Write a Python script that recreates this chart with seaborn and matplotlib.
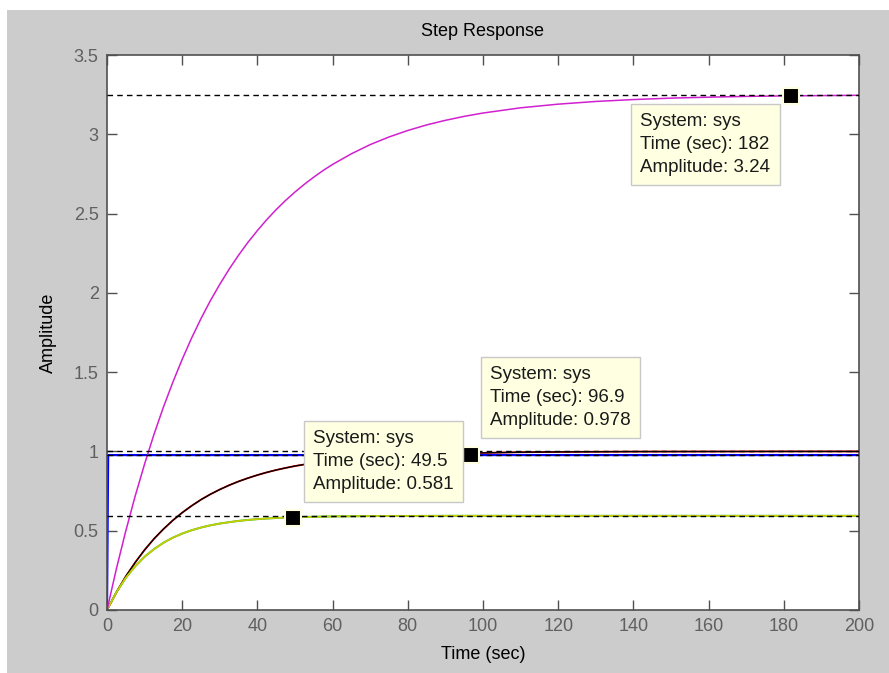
import numpy as np
import pandas as pd
import matplotlib
matplotlib.use('Agg')
import matplotlib.pyplot as plt
import seaborn as sns
from matplotlib.patches import Rectangle

# values
time_s = [0, 2.5, 5, 7.5, 10, 12.5, 15, 17.5, 20, 22.5, 25, 27.5, 30, 32.5, 35,
          37.5, 40, 42.5, 45, 47.5, 50, 52.5, 55, 57.5, 60, 65, 70, 75, 80, 85,
          90, 95, 100, 110, 120, 130, 140, 150, 160, 170, 180, 190, 200]
amp_magenta = [0, 0.26, 0.499, 0.719, 0.921, 1.108, 1.279, 1.436, 1.581, 1.715,
               1.838, 1.951, 2.054, 2.150, 2.238, 2.319, 2.393, 2.462, 2.525,
               2.583, 2.636, 2.685, 2.730, 2.772, 2.810, 2.877, 2.935, 2.983,
               3.024, 3.059, 3.088, 3.113, 3.134, 3.167, 3.190, 3.207, 3.219,
               3.228, 3.234, 3.239, 3.242, 3.244, 3.246]
amp_black = [0, 0.112, 0.212, 0.300, 0.379, 0.449, 0.510, 0.565, 0.614, 0.657,
             0.696, 0.730, 0.760, 0.787, 0.811, 0.832, 0.851, 0.868, 0.883,
             0.896, 0.908, 0.918, 0.927, 0.935, 0.943, 0.955, 0.964, 0.972,
             0.978, 0.983, 0.986, 0.989, 0.991, 0.995, 0.997, 0.998, 0.999,
             0.9992, 0.9995, 0.9997, 1.0, 1.0, 1.0]
amp_yellow = [0, 0.112, 0.203, 0.276, 0.336, 0.384, 0.424, 0.456, 0.482, 0.503,
              0.520, 0.534, 0.545, 0.554, 0.562, 0.568, 0.573, 0.577, 0.580,
              0.583, 0.585, 0.587, 0.588, 0.589, 0.590, 0.591, 0.592, 0.593,
              0.593, 0.5935, 0.594, 0.594, 0.594, 0.594, 0.594, 0.594, 0.594,
              0.594, 0.594, 0.594, 0.594, 0.594, 0.594]
blue_t = [0, 0.3, 200]
blue_amp = [0, 0.977, 0.977]

steady_levels = [3.25, 1.0, 0.977, 0.594]

tip_time = [182, 96.9, 49.5]
tip_amp = [3.24, 0.978, 0.581]
tip_text_pos = [(141.8, 3.134), (101.9, 1.539), (54.8, 1.135)]

x_ticks = list(range(0, 201, 20))
y_ticks = [0, 0.5, 1, 1.5, 2, 2.5, 3, 3.5]
y_tick_labels = ['0', '0.5', '1', '1.5', '2', '2.5', '3', '3.5']

sns.set_style('white')
plt.rcParams['font.family'] = ['Liberation Sans', 'DejaVu Sans']

curves = pd.DataFrame({'t': time_s, 'magenta': amp_magenta,
                       'black': amp_black, 'yellow': amp_yellow})
blue = pd.DataFrame({'t': blue_t, 'amp': blue_amp})

fig = plt.figure(figsize=(8.89, 6.73), dpi=100, facecolor='white')
fig.patches.append(Rectangle((7 / 889, 0), 1, (673 - 10) / 673,
                             transform=fig.transFigure, facecolor='#cccccc',
                             edgecolor='none', zorder=-10))
ax = fig.add_axes([107 / 889, (673 - 610) / 673, 752 / 889, 555 / 673])
ax.set_facecolor('white')

# curves, coloured under-lines first
sns.lineplot(data=curves, x='t', y='black', color='#ff0000', lw=1.3, ax=ax)
sns.lineplot(data=curves, x='t', y='black', color='black', lw=1.0, ax=ax)
sns.lineplot(data=curves, x='t', y='yellow', color='#22bb22', lw=1.4, ax=ax)
sns.lineplot(data=curves, x='t', y='yellow', color='#cccc00', lw=1.2, ax=ax)
sns.lineplot(data=blue, x='t', y='amp', color='#0000ff', lw=1.6, ax=ax)
sns.lineplot(data=curves, x='t', y='magenta', color='#d020d0', lw=1.1, ax=ax)

for lvl in steady_levels:
    ax.axhline(lvl, color='black', lw=1.0, ls=(0, (4, 3)), zorder=3)

ax.plot(tip_time, tip_amp, ls='none', marker='s', ms=11, mfc='black',
        mec='#ffffe1', mew=1.5, zorder=5)

for tt, aa, (xt, yt) in zip(tip_time, tip_amp, tip_text_pos):
    label = f'System: sys\nTime (sec): {tt:g}\nAmplitude: {aa:g}'
    ax.text(xt, yt, label, ha='left', va='top', fontsize=13.5,
            linespacing=1.45, color='#1a1a1a', zorder=6,
            bbox=dict(boxstyle='square,pad=0.5', fc='#ffffe1', ec='#c8c8c8', lw=1))

ax.set_xlim(0, 200)
ax.set_ylim(0, 3.5)
ax.set_xticks(x_ticks)
ax.set_yticks(y_ticks)
ax.set_yticklabels(y_tick_labels)
ax.tick_params(direction='in', length=7, width=1, color='#505050',
               labelcolor='#606060', labelsize=13, top=True, right=True,
               bottom=True, left=True, pad=6)
for sp in ax.spines.values():
    sp.set_color('#505050')
    sp.set_linewidth(1.2)

ax.set_title('Step Response', fontsize=13, pad=14, color='black')
ax.set_xlabel('Time (sec)', fontsize=13, labelpad=8, color='black')
ax.set_ylabel('Amplitude', fontsize=13, labelpad=12, color='black')

fig.savefig('out.png', dpi=100, facecolor=fig.get_facecolor())
